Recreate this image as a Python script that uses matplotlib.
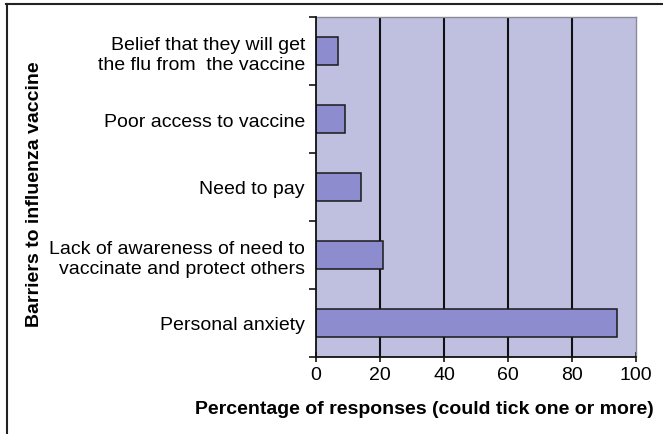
import matplotlib
matplotlib.use("Agg")
import matplotlib.pyplot as plt
from matplotlib.lines import Line2D
import numpy as np

# Barriers, listed top to bottom as they appear on the chart
barriers = [
    "Belief that they will get\nthe flu from  the vaccine",
    "Poor access to vaccine",
    "Need to pay",
    "Lack of awareness of need to\nvaccinate and protect others",
    "Personal anxiety",
]
percent = [7, 9, 14, 21, 94]
x_ticks = [0, 20, 40, 60, 80, 100]

plt.rcParams["font.family"] = ["Liberation Sans", "DejaVu Sans"]

fig = plt.figure(figsize=(6.63, 4.35), dpi=100)
fig.patch.set_facecolor("white")
ax = fig.add_axes([316 / 663, 1 - 358 / 435, 320 / 663, 340 / 435])
ax.set_facecolor("#BFBFE0")

y = np.arange(len(barriers))[::-1]
ax.barh(y, percent, height=0.4, color="#8C8CCE", edgecolor="#1a1a1a",
        linewidth=1.1, zorder=3)

ax.set_xlim(0, 100)
ax.set_ylim(-0.5, len(barriers) - 0.5)
ax.set_xticks(x_ticks)
ax.set_xticklabels([str(t) for t in x_ticks], fontsize=14)
ax.set_yticks(y)
ax.set_yticklabels(barriers, fontsize=14, linespacing=1.2)
ax.tick_params(axis="y", length=0, pad=8)
ax.set_yticks(np.arange(-0.5, len(barriers), 1.0), minor=True)
ax.tick_params(axis="y", which="minor", length=5, width=1.1, direction="out")
ax.tick_params(axis="x", length=7, width=1.1, direction="inout", pad=3)

for v in x_ticks[1:-1]:
    ax.axvline(v, color="#111111", linewidth=1.5, zorder=2)

for side in ("top", "right"):
    ax.spines[side].set_color("#8a8a9a")
    ax.spines[side].set_linewidth(1.0)
for side in ("left", "bottom"):
    ax.spines[side].set_color("#111111")
    ax.spines[side].set_linewidth(1.3)
    ax.spines[side].set_zorder(4)

fig.text(424 / 663, 1 - 410 / 435, "Percentage of responses (could tick one or more)",
         ha="center", va="center", fontsize=14, fontweight="bold")
fig.text(35 / 663, 1 - 194 / 435, "Barriers to influenza vaccine",
         ha="center", va="center", rotation=90, fontsize=14, fontweight="bold")

# Frame lines along the top and left of the figure
fig.add_artist(Line2D([6 / 663, 1.0], [1 - 5 / 435, 1 - 5 / 435],
                      transform=fig.transFigure, color="#222222", linewidth=1.5))
fig.add_artist(Line2D([7 / 663, 7 / 663], [0.0, 1 - 5 / 435],
                      transform=fig.transFigure, color="#222222", linewidth=1.5))

fig.savefig("out.png", dpi=100, facecolor="white")
